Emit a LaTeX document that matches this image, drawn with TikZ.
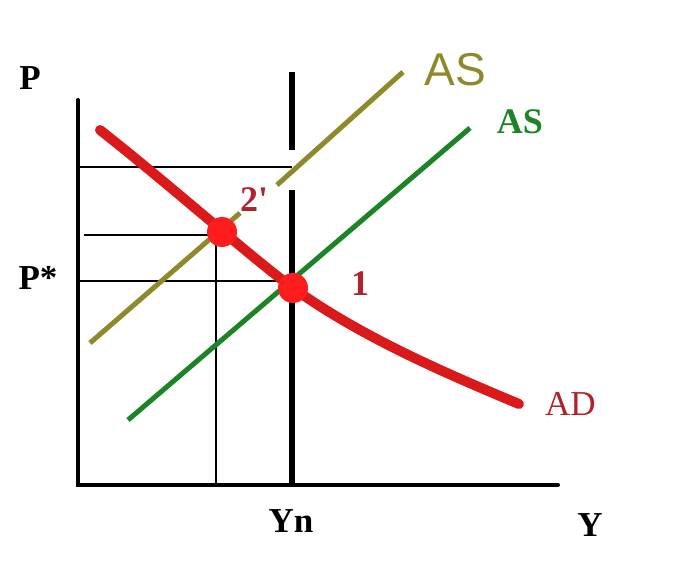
\documentclass[tikz,border=0pt]{standalone}
\usepackage{fontspec}
\setmainfont{Liberation Serif}
\newfontfamily\assans{Liberation Sans}
\usetikzlibrary{positioning}
\definecolor{adred}{HTML}{DA1A1A}
\definecolor{dotred}{HTML}{FF1C1C}
\definecolor{labelred}{HTML}{B0222C}
\definecolor{asolive}{HTML}{8E8A2C}
\definecolor{asgreen}{HTML}{1C8426}
\tikzset{
    axisline/.style={line width=4pt, line cap=round},
    ynline/.style={line width=5.5pt},
    guide/.style={line width=1.4pt},
    adcurve/.style={line width=10pt, draw=adred, line cap=round},
    asshift/.style={line width=5pt, draw=asolive},
    asbase/.style={line width=5pt, draw=asgreen},
    eqdot/.style={circle, fill=dotred, minimum size=30pt, inner sep=0pt},
    axislabel/.style={inner sep=0pt, font=\fontsize{35}{38}\selectfont\bfseries},
    pointlabel/.style={inner sep=0pt, text=labelred, font=\fontsize{36}{38}\selectfont\bfseries},
}

\begin{document}
\begin{tikzpicture}[x=1pt, y=-1pt]
\useasboundingbox (0,0) rectangle (688,572);

% axes
\coordinate (ytop) at (78,100);
\coordinate (origin) at (78,485);
\coordinate (xend) at (558,485);
\draw[axisline] (ytop) -- (origin) -- (xend);

% equilibrium points
\coordinate (e1c) at (293,288);
\coordinate (e2c) at (222,232);

% guide lines
\coordinate (g1l) at (78,167);
\coordinate (g1r) at (292,167);
\coordinate (g2l) at (84,235);
\coordinate (g2b) at (216,485);
\coordinate (g2t) at (216,235);
\coordinate (pstarl) at (78,281);
\draw[guide] (g1l) -- (g1r);
\draw[guide] (g2l) -- (g2t) -- (g2b);
\draw[guide] (pstarl) -- (pstarl -| e1c);

% natural output
\coordinate (yntop) at (292,72);
\coordinate (yngapa) at (292,150);
\coordinate (yngapb) at (292,190);
\coordinate (ynbot) at (292,485);
\draw[ynline] (yntop) -- (yngapa);
\draw[ynline] (yngapb) -- (ynbot);

% supply curves
\coordinate (asoa) at (90,343);
\coordinate (asob) at (240,213);
\coordinate (asoc) at (277,185);
\coordinate (asod) at (403,72);
\draw[asshift] (asoa) -- (asob);
\draw[asshift] (asoc) -- (asod);

\coordinate (asga) at (128,420);
\coordinate (asgb) at (470,128);
\draw[asbase] (asga) -- (asgb);

% demand curve
\coordinate (adstart) at (100,130);
\coordinate (adend) at (519,404);
\draw[adcurve] (adstart) .. controls (170,185) and (253,259) .. (e1c)
    .. controls (360,336) and (440,371) .. (adend);

\node[eqdot] (e2) at (e2c) {};
\node[eqdot] (e1) at (e1c) {};

% labels
\node[axislabel] (plab) at (30,78) {P};
\node[axislabel] (pstarlab) at (38,278) {P*};
\node[axislabel] (ynlab) at (291,521) {Yn};
\node[axislabel] (ylab) at (590,525) {Y};
\node[pointlabel] (lab1) at (360,284) {1};
\node[pointlabel] (lab2) at (254,200) {2\textquotesingle};
\node[inner sep=0pt, text=labelred, font=\fontsize{35}{38}\selectfont, right=26pt of adend] (adlab) {AD};
\node[inner sep=0pt, text=asolive, font=\assans\fontsize{46}{48}\selectfont] (asolab) at (455,70) {AS};
\node[inner sep=0pt, text=asgreen, font=\fontsize{36}{38}\selectfont\bfseries] (asglab) at (520,122) {AS};

\end{tikzpicture}
\end{document}
